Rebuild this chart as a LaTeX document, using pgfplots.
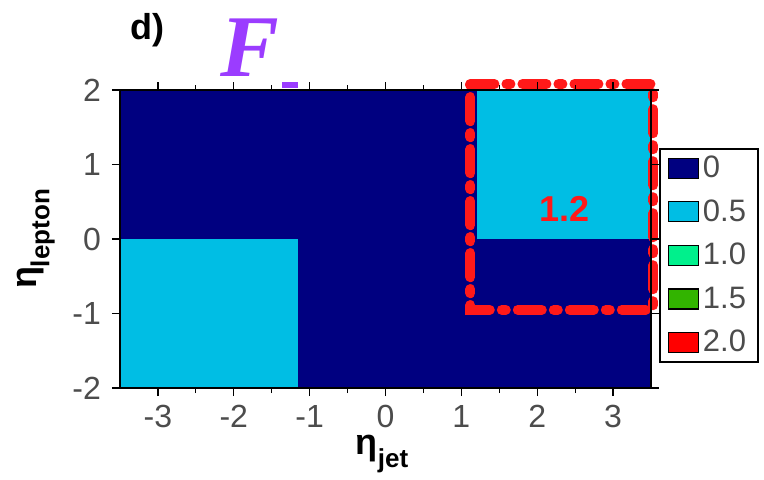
\documentclass[border=0pt]{standalone}
\usepackage{pgfplots}
\pgfplotsset{compat=1.18}
\usepackage{fontspec}
\setmainfont{Liberation Sans}
\newfontfamily\serifbi{Liberation Serif}
\definecolor{cnavy}{RGB}{0,0,128}
\definecolor{ccyan}{RGB}{0,190,228}
\definecolor{cspring}{RGB}{0,240,140}
\definecolor{cgreen}{RGB}{50,180,0}
\definecolor{cred}{RGB}{255,0,0}
\definecolor{cmark}{RGB}{255,25,25}
\definecolor{cpurple}{RGB}{155,60,255}
\begin{document}
\begin{tikzpicture}
\path[use as bounding box] (-60pt,-45.5pt) rectangle (322pt,194pt);
\begin{axis}[
  at={(0pt,0pt)}, anchor=south west,
  scale only axis, width=265.5pt, height=149pt,
  xmin=-3.5, xmax=3.5, ymin=-2, ymax=2,
  axis on top,
  clip=false,
  xtick={-3,-2,-1,0,1,2,3},
  xticklabels={-3,-2,-1,0,1,2,3},
  ytick={-2,-1,0,1,2},
  yticklabels={-2,-1,0,1,2},
  minor x tick num=1,
  tick align=outside,
  major tick length=4pt, minor tick length=2.5pt,
  tick style={black, line width=0.6pt},
  axis line style={black, line width=0.8pt},
  ticklabel style={font=\fontsize{16}{16}\selectfont, text=black!70},
  xticklabel style={yshift=-1pt},
  yticklabel style={xshift=-2pt},
  legend cell align=left,
  legend style={at={(1.015,0.805)}, anchor=north west, draw=black,
    line width=0.8pt, fill=white, font=\fontsize{15.5}{15.5}\selectfont,
    text=black!70, row sep=5.5pt, inner xsep=4pt, inner ysep=1.5pt},
  legend image code/.code={\draw[#1, draw=black, line width=0.6pt] (0pt,-5pt) rectangle (15pt,5pt);},
]
% background level
\addplot[fill=cnavy, draw=none] coordinates {(-3.5,-2) (3.5,-2) (3.5,2) (-3.5,2)} -- cycle;
\addlegendentry{0}
% raised cells
\addplot[fill=ccyan, draw=none] coordinates {(-3.5,-2) (-1.15,-2) (-1.15,0) (-3.5,0)} -- cycle;
\addlegendentry{0.5}
\addplot[fill=ccyan, draw=none, forget plot] coordinates {(1.2,0) (3.5,0) (3.5,2) (1.2,2)} -- cycle;
\addlegendimage{fill=cspring}
\addlegendentry{1.0}
\addlegendimage{fill=cgreen}
\addlegendentry{1.5}
\addlegendimage{fill=cred}
\addlegendentry{2.0}
% highlighted region
\addplot[cmark, line width=5pt, line cap=round,
  dash pattern=on 12pt off 6pt on 2pt off 6pt, forget plot]
  coordinates {(1.12,2.08) (3.53,2.08) (3.53,-0.95) (1.12,-0.95) (1.12,2.08)};
\node[text=cmark, font=\fontsize{18}{18}\selectfont\bfseries] at (axis cs:2.36,0.41) {1.2};
\end{axis}
% labels
\node[rotate=90, font=\fontsize{18}{18}\selectfont\bfseries] at (-42pt,74.5pt)
  {η\raisebox{-0.35em}{\fontsize{13}{13}\selectfont lepton}};
\node[font=\fontsize{18}{18}\selectfont\bfseries] at (131pt,-33pt)
  {η\raisebox{-0.35em}{\fontsize{13}{13}\selectfont jet}};
\node[font=\fontsize{18}{18}\selectfont\bfseries] at (13.5pt,179pt) {d)};
\node[text=cpurple, font=\serifbi\fontsize{44}{44}\selectfont\bfseries\itshape] at (65pt,170pt) {F};
\fill[cpurple] (81pt,150pt) rectangle (89pt,153pt);
\end{tikzpicture}
\end{document}
